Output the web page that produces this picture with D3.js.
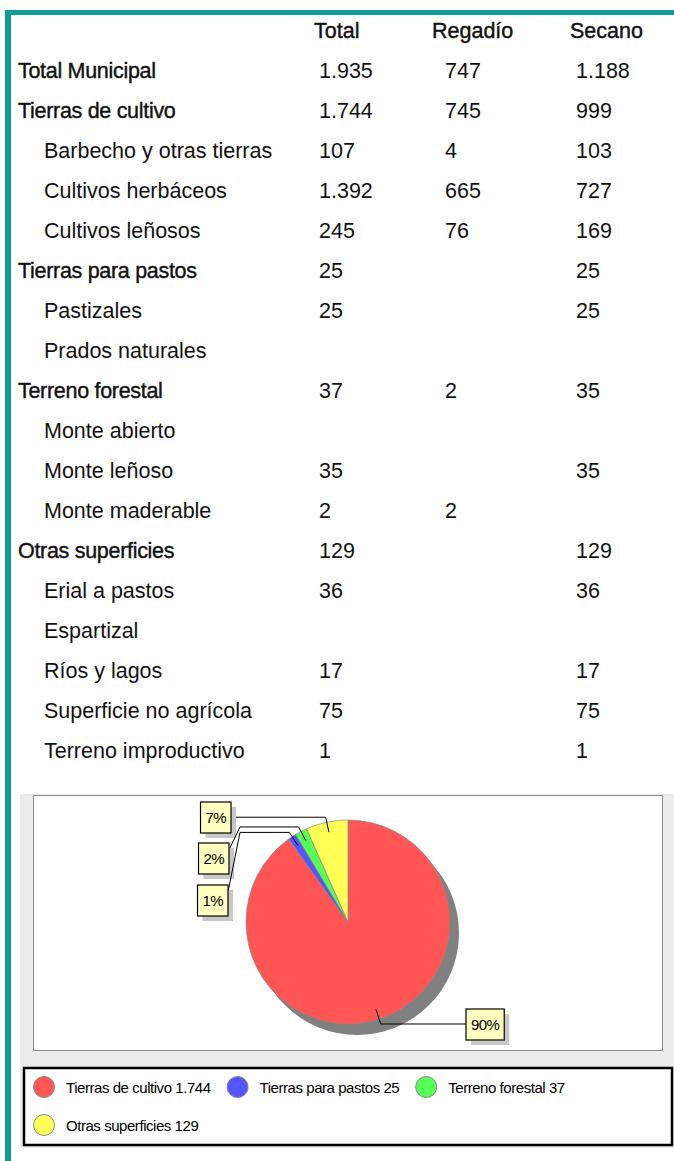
<!DOCTYPE html>
<html>
<head>
<meta charset="utf-8">
<script src="https://cdn.jsdelivr.net/npm/d3@7"></script>
<style>
  body { margin: 0; background: #fff; }
  svg { display: block; font-family: "Liberation Sans", Arial, sans-serif; }
</style>
</head>
<body>
<svg id="chart" width="674" height="1161"></svg>
<script>
// table data
var rowNames = ["Total Municipal", "Tierras de cultivo", "Barbecho y otras tierras",
  "Cultivos herbáceos", "Cultivos leñosos", "Tierras para pastos", "Pastizales",
  "Prados naturales", "Terreno forestal", "Monte abierto", "Monte leñoso",
  "Monte maderable", "Otras superficies", "Erial a pastos", "Espartizal",
  "Ríos y lagos", "Superficie no agrícola", "Terreno improductivo"];
var rowLevel = [0, 0, 1, 1, 1, 0, 1, 1, 0, 1, 1, 1, 0, 1, 1, 1, 1, 1];
var columns = ["Total", "Regadío", "Secano"];
var totalVals = [1935, 1744, 107, 1392, 245, 25, 25, null, 37, null, 35, 2, 129, 36, null, 17, 75, 1];
var regadioVals = [747, 745, 4, 665, 76, null, null, null, 2, null, null, 2, null, null, null, null, null, null];
var secanoVals = [1188, 999, 103, 727, 169, 25, 25, null, 35, null, 35, null, 129, 36, null, 17, 75, 1];

// pie data
var pieNames = ["Tierras de cultivo", "Tierras para pastos", "Terreno forestal", "Otras superficies"];
var pieValues = [1744, 25, 37, 129];
var pieColors = ["#ff5555", "#5555ff", "#55ff55", "#ffff55"];

var es = d3.formatLocale({decimal: ",", thousands: ".", grouping: [3], currency: ["", " €"]});
var fmt = es.format(",d");

var svg = d3.select("#chart");
var teal = "#0d9c97";

// frame
svg.append("rect").attr("x", 5).attr("y", 10).attr("width", 669).attr("height", 5).attr("fill", teal);
svg.append("rect").attr("x", 5).attr("y", 10).attr("width", 6).attr("height", 1151).attr("fill", teal);

// ---- table ----
var yRow = d3.scaleLinear().domain([0, rowNames.length - 1]).range([78, 758]);
var xCol = d3.scaleOrdinal().domain(columns).range([319, 445, 576]);
var xHead = d3.scaleOrdinal().domain(columns).range([314, 432, 570]);
var fs = 21.5;

var table = svg.append("g").attr("font-size", fs).attr("fill", "#111");

table.selectAll("text.head")
  .data(columns).enter()
  .append("text")
  .attr("class", "head")
  .attr("x", (d) => xHead(d))
  .attr("y", 38)
  .attr("stroke", "#111").attr("stroke-width", 0.4)
  .text((d) => d);

var rows = table.selectAll("g.row")
  .data(rowNames.map((n, i) => ({
    name: n, level: rowLevel[i],
    vals: [totalVals[i], regadioVals[i], secanoVals[i]], i: i
  })))
  .enter().append("g")
  .attr("class", "row")
  .attr("transform", (d) => "translate(0," + yRow(d.i) + ")");

rows.append("text")
  .attr("x", (d) => d.level ? 44 : 18)
  .attr("stroke", (d) => d.level ? "none" : "#111")
  .attr("stroke-width", 0.4)
  .attr("letter-spacing", (d) => d.level ? 0 : -0.3)
  .text((d) => d.name);

rows.selectAll("text.val")
  .data((d) => d.vals.map((v, j) => ({v: v, col: columns[j]})).filter((c) => c.v != null))
  .enter().append("text")
  .attr("class", "val")
  .attr("x", (d) => xCol(d.col))
  .text((d) => fmt(d.v));

// ---- chart panel ----
svg.append("rect").attr("x", 20).attr("y", 794).attr("width", 654).attr("height", 354).attr("fill", "#ececec");
svg.append("rect").attr("x", 33.5).attr("y", 795.5).attr("width", 629).attr("height", 255)
  .attr("fill", "#fff").attr("stroke", "#8c8c8c");

var cx = 348, cy = 922, r = 102;
var total = d3.sum(pieValues);
var pie = d3.pie().sort(null).value((d) => d.value);
var arcs = pie(pieNames.map((n, i) => ({name: n, value: pieValues[i], color: pieColors[i]})));
var arc = d3.arc().innerRadius(0).outerRadius(r);

var pg = svg.append("g").attr("transform", "translate(" + cx + "," + cy + ")");
pg.append("circle").attr("cx", 9).attr("cy", 11).attr("r", r).attr("fill", "#808080");
pg.selectAll("path")
  .data(arcs).enter()
  .append("path")
  .attr("d", arc)
  .attr("fill", (d) => d.data.color)
  .attr("stroke", "#8a8a8a")
  .attr("stroke-width", 0.7);

// percent labels with leader lines
function polar(a, rad) { return [cx + rad * Math.sin(a), cy - rad * Math.cos(a)]; }
var boxes = [
  {idx: 3, x: 199, y: 802, side: "left"},
  {idx: 2, x: 197, y: 843, side: "left"},
  {idx: 1, x: 196, y: 885, side: "left"},
  {idx: 0, x: 466, y: 1009, side: "right"}
];
var lab = svg.append("g");
boxes.forEach(function (b) {
  var d = arcs[b.idx];
  var mid = (d.startAngle + d.endAngle) / 2;
  var pct = Math.round(d.value / total * 100) + "%";
  var t = lab.append("text").attr("font-size", 15).attr("letter-spacing", -0.6).text(pct);
  var w = t.node().getComputedTextLength() + 10, h = 31;
  var bx = b.side === "left" ? b.x + 32 - w : b.x;
  var anchor = polar(mid, r * 0.9), elbow = polar(mid, r * 1.05);
  var pts;
  if (b.side === "left") {
    var ey = b.y + 15;
    if (Math.abs(elbow[1] - ey) < 4) {
      pts = [anchor, elbow, [bx + w, elbow[1]]];
    } else {
      pts = [anchor, elbow, [240, elbow[1]], [bx + w, b.y + 7]];
    }
  } else {
    pts = [anchor, elbow, [bx, elbow[1]]];
  }
  lab.append("path").attr("d", d3.line()(pts)).attr("fill", "none").attr("stroke", "#000").attr("stroke-width", 1);
  lab.append("rect").attr("x", bx + 5).attr("y", b.y + 5).attr("width", w).attr("height", h).attr("fill", "#c8c8c8");
  lab.append("rect").attr("x", bx).attr("y", b.y).attr("width", w).attr("height", h)
    .attr("fill", "#ffffc0").attr("stroke", "#000").attr("stroke-width", 1.2);
  t.attr("x", bx + 5).attr("y", b.y + 21).raise();
});

// ---- legend ----
svg.append("rect").attr("x", 24).attr("y", 1068).attr("width", 648).attr("height", 77)
  .attr("fill", "#fff").attr("stroke", "#000").attr("stroke-width", 2.5);

var lg = svg.append("g").attr("font-size", 15).attr("letter-spacing", -0.45);
var lx = 33, ly = 1087;
arcs.forEach(function (d, i) {
  var label = d.data.name + " " + fmt(d.value);
  var t = lg.append("text").attr("x", 0).attr("y", 0).text(label);
  var tw = t.node().getComputedTextLength();
  if (lx + 34 + tw > 660) { lx = 33; ly += 38; }
  lg.append("circle").attr("cx", lx + 11).attr("cy", ly).attr("r", 10.5)
    .attr("fill", d.data.color).attr("stroke", "#8a8a8a").attr("stroke-width", 1);
  t.attr("x", lx + 33).attr("y", ly + 5.5);
  lx += 33 + tw + 16;
});
</script>
</body>
</html>
